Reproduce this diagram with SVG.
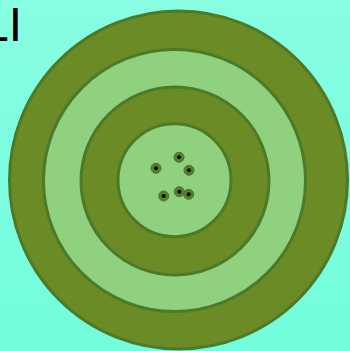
<svg xmlns="http://www.w3.org/2000/svg" width="350" height="351" viewBox="0 0 350 351">
<defs>
<linearGradient id="bg" x1="0" y1="0" x2="0" y2="1">
<stop offset="0" stop-color="#88fde2"/>
<stop offset="1" stop-color="#72fddc"/>
</linearGradient>
<style>
.dark{fill:#6a8b26;stroke:#4c7a26;stroke-width:3}
.light{fill:#90d17f;stroke:#4c7a26;stroke-width:3}
.halo{fill:#577f2c;stroke:#4c7428;stroke-width:1}
.hole{fill:#000}
.t{font-family:"Liberation Sans",Arial,sans-serif;font-size:48px;fill:#000}
</style>
</defs>
<rect width="350" height="351" fill="url(#bg)"/>
<text class="t" x="-18" y="41">LI</text>
<g id="target">
<circle class="dark" cx="178.5" cy="180" r="169"/>
<circle class="light" cx="174.5" cy="180.5" r="131"/>
<circle class="dark" cx="175" cy="181" r="94"/>
<circle class="light" cx="174.5" cy="180.2" r="56.5"/>
</g>
<g id="holes">
<circle class="halo" cx="179" cy="157.3" r="5"/><circle class="hole" cx="179" cy="157.3" r="2"/>
<circle class="halo" cx="156" cy="168.3" r="5"/><circle class="hole" cx="156" cy="168.3" r="2"/>
<circle class="halo" cx="189" cy="170.3" r="5"/><circle class="hole" cx="189" cy="170.3" r="2"/>
<circle class="halo" cx="163.7" cy="196" r="5"/><circle class="hole" cx="163.7" cy="196" r="2"/>
<circle class="halo" cx="179.3" cy="191.7" r="5"/><circle class="hole" cx="179.3" cy="191.7" r="2"/>
<circle class="halo" cx="188.7" cy="194.3" r="5"/><circle class="hole" cx="188.7" cy="194.3" r="2"/>
</g>
</svg>
